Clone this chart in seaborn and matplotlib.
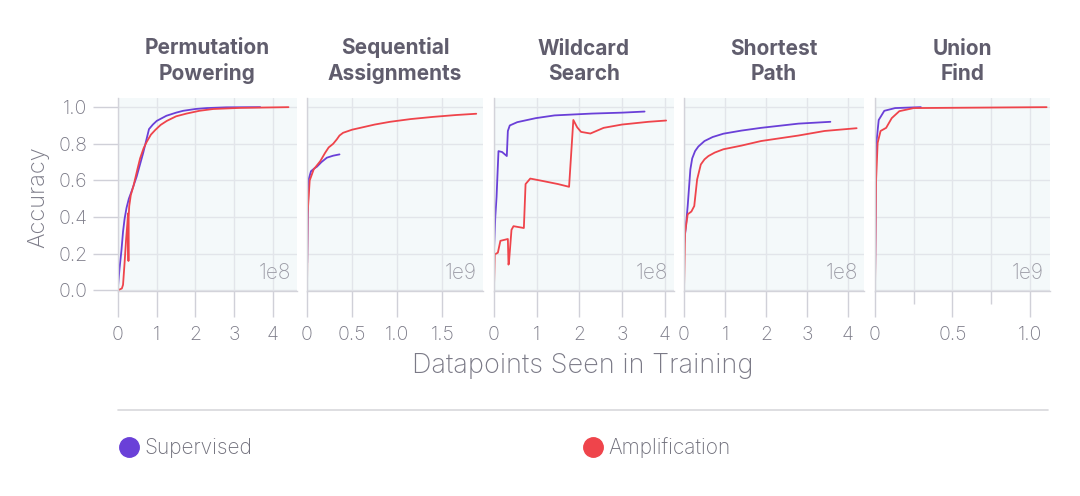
import numpy as np
import pandas as pd
import matplotlib
matplotlib.use('Agg')
import matplotlib.pyplot as plt
import seaborn as sns
from matplotlib.lines import Line2D

# panel titles and x scale
titles = ['Permutation\nPowering', 'Sequential\nAssignments', 'Wildcard\nSearch',
          'Shortest\nPath', 'Union\nFind']
scales = ['1e8', '1e9', '1e8', '1e8', '1e9']

# Permutation Powering
perm_sup_x = [0, 0.04, 0.09, 0.13, 0.17, 0.22, 0.28, 0.35, 0.48, 0.65, 0.80, 0.90, 1.0,
              1.25, 1.5, 1.68, 2.0, 2.29, 2.8, 3.67]
perm_sup_y = [0.02, 0.12, 0.22, 0.32, 0.39, 0.45, 0.50, 0.54, 0.62, 0.75, 0.88, 0.905, 0.925,
              0.953, 0.97, 0.98, 0.99, 0.995, 0.999, 1.0]
perm_amp_x = [0, 0.10, 0.13, 0.17, 0.21, 0.24, 0.26, 0.265, 0.27, 0.275, 0.29, 0.33, 0.40,
              0.50, 0.57, 0.66, 0.74, 0.85, 0.96, 1.1, 1.26, 1.5, 1.77, 2.1, 2.46, 3.15, 4.4]
perm_amp_y = [0.0, 0.01, 0.03, 0.15, 0.28, 0.36, 0.42, 0.25, 0.16, 0.40, 0.46, 0.52, 0.57,
              0.66, 0.72, 0.775, 0.81, 0.85, 0.875, 0.903, 0.925, 0.95, 0.965, 0.98, 0.99, 0.996, 1.0]

# Sequential Assignments
seq_sup_x = [0.002, 0.008, 0.018, 0.044, 0.08, 0.11, 0.16, 0.22, 0.29, 0.36]
seq_sup_y = [0.15, 0.40, 0.605, 0.65, 0.665, 0.675, 0.70, 0.724, 0.735, 0.742]
seq_amp_x = [0, 0.007, 0.03, 0.074, 0.147, 0.2, 0.24, 0.29, 0.33, 0.36, 0.40, 0.5, 0.59, 0.75,
             0.92, 1.15, 1.40, 1.65, 1.875]
seq_amp_y = [0.0, 0.42, 0.6, 0.66, 0.705, 0.75, 0.78, 0.80, 0.824, 0.845, 0.86, 0.877, 0.887, 0.905,
             0.92, 0.935, 0.947, 0.957, 0.964]

# Wildcard Search
wild_sup_x = [0, 0.03, 0.06, 0.105, 0.19, 0.30, 0.325, 0.37, 0.545, 0.98, 1.42, 2.30, 3.0, 3.53]
wild_sup_y = [0.22, 0.40, 0.51, 0.76, 0.755, 0.733, 0.87, 0.90, 0.918, 0.94, 0.955, 0.965,
              0.97, 0.976]
wild_amp_x = [0, 0.018, 0.09, 0.15, 0.325, 0.34, 0.35, 0.41, 0.457, 0.70, 0.74, 0.85, 1.16,
              1.5, 1.76, 1.86, 1.95, 2.04, 2.26, 2.57, 3.0, 3.62, 4.035]
wild_amp_y = [0.02, 0.196, 0.205, 0.27, 0.28, 0.14, 0.15, 0.33, 0.35, 0.34, 0.58, 0.61, 0.596,
              0.58, 0.565, 0.93, 0.89, 0.865, 0.856, 0.887, 0.905, 0.92, 0.927]

# Shortest Path
path_sup_x = [0, 0.046, 0.09, 0.155, 0.2, 0.27, 0.35, 0.50, 0.7, 0.96, 1.4, 1.88, 2.79, 3.57]
path_sup_y = [0.25, 0.35, 0.46, 0.66, 0.72, 0.76, 0.785, 0.815, 0.837, 0.855, 0.872, 0.887,
              0.91, 0.92]
path_amp_x = [0, 0.027, 0.09, 0.18, 0.25, 0.32, 0.41, 0.5, 0.595, 0.75, 0.96, 1.4, 1.88, 2.79,
              3.43, 4.21]
path_amp_y = [0.005, 0.315, 0.415, 0.43, 0.46, 0.605, 0.687, 0.715, 0.733, 0.752, 0.77, 0.79,
              0.815, 0.845, 0.87, 0.885]

# Union Find
union_sup_x = [0, 0.007, 0.024, 0.06, 0.13, 0.296]
union_sup_y = [0.02, 0.79, 0.93, 0.98, 0.995, 1.0]
union_amp_x = [0, 0.007, 0.017, 0.036, 0.072, 0.108, 0.157, 0.25, 1.108]
union_amp_y = [0.0, 0.6, 0.805, 0.87, 0.887, 0.94, 0.978, 0.995, 1.0]

sup_x = [perm_sup_x, seq_sup_x, wild_sup_x, path_sup_x, union_sup_x]
sup_y = [perm_sup_y, seq_sup_y, wild_sup_y, path_sup_y, union_sup_y]
amp_x = [perm_amp_x, seq_amp_x, wild_amp_x, path_amp_x, union_amp_x]
amp_y = [perm_amp_y, seq_amp_y, wild_amp_y, path_amp_y, union_amp_y]

xticks = [[0, 1, 2, 3, 4], [0, 0.5, 1.0, 1.5], [0, 1, 2, 3, 4], [0, 1, 2, 3, 4], [0, 0.5, 1.0]]
xticklabels = [['0', '1', '2', '3', '4'], ['0', '0.5', '1.0', '1.5'], ['0', '1', '2', '3', '4'],
               ['0', '1', '2', '3', '4'], ['0', '0.5', '1.0']]
xlims = [4.62, 1.95, 4.22, 4.39, 1.13]

SUP = '#6a40d8'
AMP = '#ef444b'
TXT = '#7b7a87'
TITLE = '#605d6d'
GRID = '#e2e5ea'

sns.set_theme(style='white')
plt.rcParams['font.family'] = ['Inter', 'DejaVu Sans']

W, H = 1080, 496
fig = plt.figure(figsize=(W / 100, H / 100), dpi=100)

lefts = [118, 307, 494, 684, 875]
rights = [297, 483, 674, 864, 1050]
top, bottom = 98, 291

for i in range(5):
    ax = fig.add_axes([lefts[i] / W, 1 - bottom / H, (rights[i] - lefts[i]) / W, (bottom - top) / H])
    ax.set_facecolor('#f4f9fa')
    df = pd.concat([
        pd.DataFrame({'x': sup_x[i], 'y': sup_y[i], 'kind': 'Supervised'}),
        pd.DataFrame({'x': amp_x[i], 'y': amp_y[i], 'kind': 'Amplification'}),
    ])
    sns.lineplot(data=df, x='x', y='y', hue='kind', palette={'Supervised': SUP, 'Amplification': AMP},
                 estimator=None, sort=False, legend=False, lw=1.3, ax=ax)
    ax.set_xlim(0, xlims[i])
    ax.set_ylim(-0.004, 1.05)
    ax.set_xticks(xticks[i])
    ax.set_xticklabels(xticklabels[i])
    if i == 4:
        ax.set_xticks([0.25, 0.75], minor=True)
        ax.tick_params(axis='x', which='minor', length=9, width=1, color='#d0d0d8', bottom=True)
    ax.set_yticks([0, 0.2, 0.4, 0.6, 0.8, 1.0])
    ax.grid(True, color=GRID, lw=1)
    ax.grid(True, which='minor', axis='x', color=GRID, lw=1)
    ax.set_axisbelow(True)
    for s in ['top', 'right']:
        ax.spines[s].set_visible(False)
    for s in ['left', 'bottom']:
        ax.spines[s].set_color('#d3d3da')
        ax.spines[s].set_linewidth(1)
    ax.tick_params(axis='x', length=19, width=1, color='#d0d0d8', labelsize=14, labelcolor=TXT, pad=6,
                   bottom=True)
    if i == 0:
        ax.set_yticklabels(['0.0', '0.2', '0.4', '0.6', '0.8', '1.0'])
        ax.tick_params(axis='y', length=18, width=1, color='#d0d0d8', labelsize=14, labelcolor=TXT,
                       pad=4, left=True)
    else:
        ax.tick_params(axis='y', length=0, labelleft=False)
    for lab in ax.get_xticklabels() + ax.get_yticklabels():
        lab.set_fontweight('light')
    ax.set_xlabel('')
    ax.set_ylabel('')
    ax.set_title(titles[i], fontsize=15, fontweight='bold', color=TITLE, pad=13, linespacing=1.3)
    ax.text(0.965, 0.04, scales[i], transform=ax.transAxes, ha='right', va='bottom',
            fontsize=15, color='#9c9ca6', fontweight='light')

fig.text(38 / W, 1 - 197 / H, 'Accuracy', rotation=90, ha='center', va='center', fontsize=17,
         color=TXT, fontweight='light')
fig.text(583 / W, 1 - 366 / H, 'Datapoints Seen in Training', ha='center', va='center',
         fontsize=19.5, color=TXT, fontweight='light')

fig.add_artist(Line2D([118 / W, 1048 / W], [1 - 410 / H, 1 - 410 / H], color='#d8d8dc', lw=1.2))

for name, col, xpos in [('Supervised', SUP, 116), ('Amplification', AMP, 580)]:
    h = Line2D([], [], marker='o', ls='', markersize=14, color=col, label=name)
    leg = fig.legend(handles=[h], loc='center left', bbox_to_anchor=(xpos / W, 1 - 448 / H),
                     frameon=False, handletextpad=0.15, handlelength=1.2, borderaxespad=0,
                     borderpad=0, fontsize=15)
    for t in leg.get_texts():
        t.set_color('#6f6e7a')
        t.set_fontweight('light')

fig.savefig('out.png', dpi=100)
